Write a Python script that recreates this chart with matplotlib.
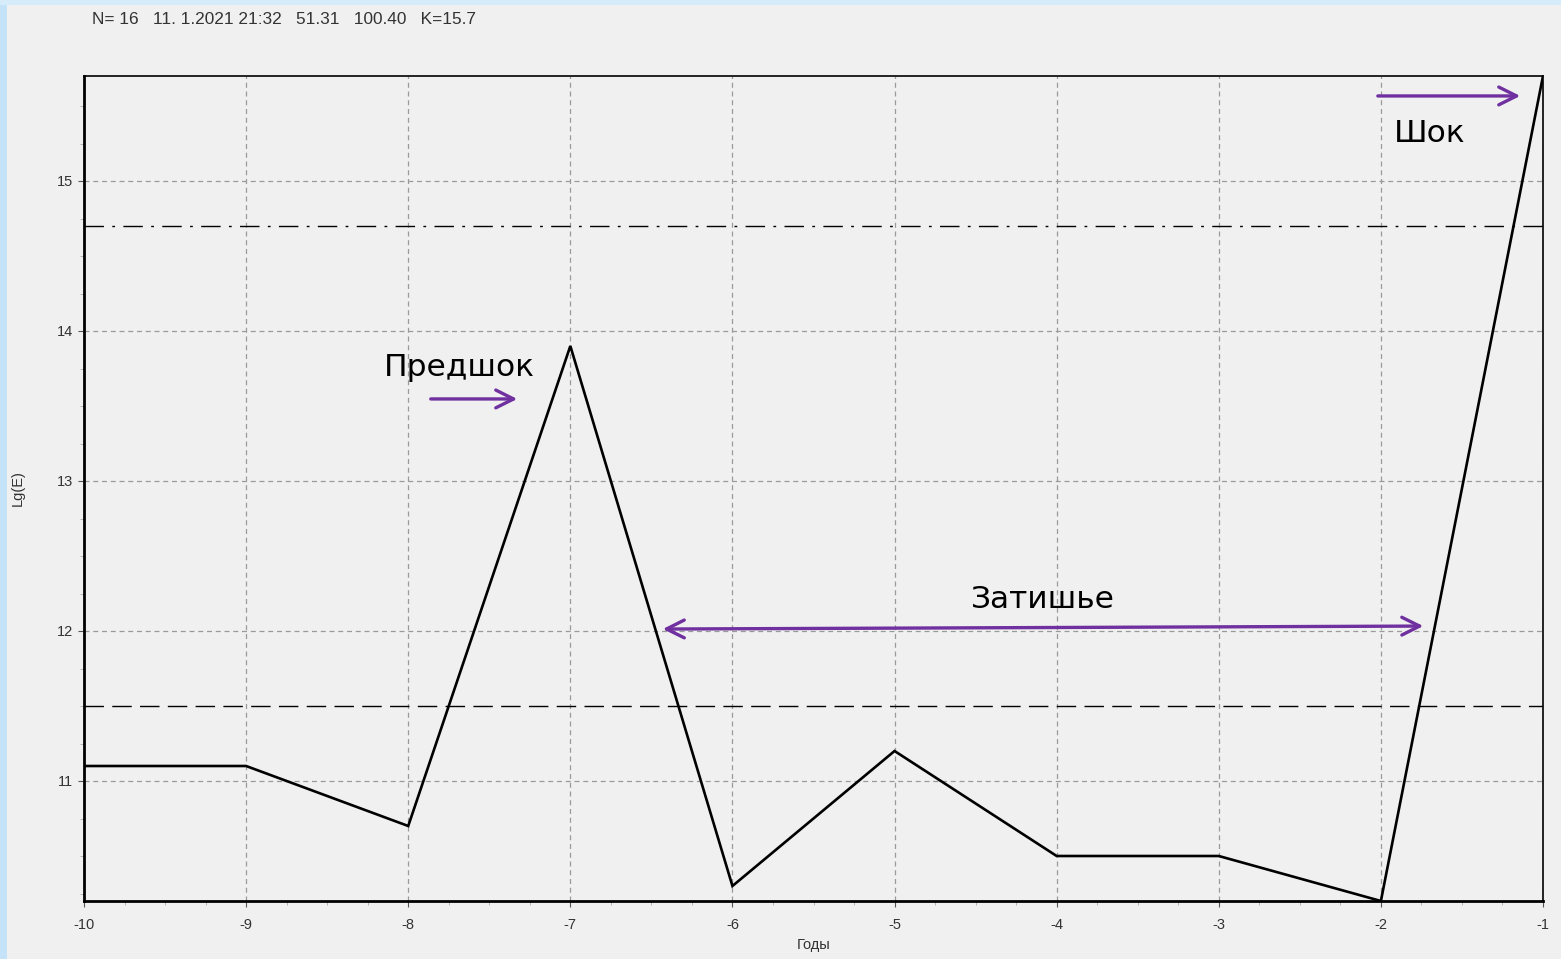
import numpy as np
import matplotlib.pyplot as plt
from matplotlib.patches import Rectangle
from matplotlib.ticker import MultipleLocator

plt.rcParams['axes.unicode_minus'] = False

# energy per year, log scale
years = [-10, -9, -8, -7, -6, -5, -4, -3, -2, -1]
lg_e = [11.1, 11.1, 10.7, 13.9, 10.3, 11.2, 10.5, 10.5, 10.2, 15.7]

level_upper = 14.7   # dash-dot line
level_lower = 11.5   # long-dash line

header = 'N= 16   11. 1.2021 21:32   51.31   100.40   K=15.7'

purple = '#7030a0'
txtcol = '#333333'
small = 'Liberation Sans'

fig = plt.figure(figsize=(15.61, 9.59), dpi=100)
fig.patch.set_facecolor('#f0f0f0')
fig.patches.append(Rectangle((0, 0), 7/1561, 1, transform=fig.transFigure,
                             facecolor='#c4e2f8', edgecolor='none', zorder=0))
fig.patches.append(Rectangle((0, 1 - 5/959), 1, 5/959, transform=fig.transFigure,
                             facecolor='#d6ecfb', edgecolor='none', zorder=0))

ax = fig.add_axes([84/1561, 58/959, (1543-84)/1561, (901-76)/959])
ax.set_facecolor('#f0f0f0')

ax.plot(years, lg_e, color='black', lw=1.9, zorder=3, solid_joinstyle='miter')
ax.axhline(level_upper, color='black', lw=1.0, dashes=(14, 6, 2, 6), zorder=2)
ax.axhline(level_lower, color='black', lw=1.0, dashes=(14, 6), zorder=2)

ax.set_xlim(-10, -1)
ax.set_ylim(10.2, 15.7)
ax.xaxis.set_major_locator(MultipleLocator(1))
ax.xaxis.set_minor_locator(MultipleLocator(0.25))
ax.yaxis.set_major_locator(MultipleLocator(1))
ax.yaxis.set_minor_locator(MultipleLocator(0.25))
ax.grid(True, which='major', color='#9a9a9a', lw=0.9, dashes=(4, 3))
ax.tick_params(which='major', length=4, width=0.8, color='#555555',
               labelsize=10.5, labelcolor=txtcol, pad=4)
ax.tick_params(axis='x', which='major', pad=8)
ax.tick_params(which='minor', length=3, width=0.6, color='#aaaaaa')
for lab in ax.get_xticklabels() + ax.get_yticklabels():
    lab.set_family(small)

for s in ['left', 'bottom']:
    ax.spines[s].set_linewidth(2.0)
for s in ['top', 'right']:
    ax.spines[s].set_linewidth(1.2)

ax.set_xlabel('Годы', fontsize=10.5, color=txtcol, family=small)
ax.xaxis.set_label_coords(0.5, -37/825)
ax.set_ylabel('Lg(E)', fontsize=10.5, color=txtcol, family=small)
ax.yaxis.set_label_coords(-59/1459, 0.5)

fig.text(92/1561, 1 - 20/959, header, fontsize=12.4, color=txtcol,
         family=small, va='center', ha='left')

# phase labels and arrows
arrow = dict(arrowstyle='->', color=purple, lw=2.4, mutation_scale=32)
ax.annotate('', xy=(-7.31, 13.547), xytext=(-7.878, 13.547), arrowprops=arrow)
ax.annotate('', xy=(-1.123, 15.567), xytext=(-2.036, 15.567), arrowprops=arrow)
ax.annotate('', xy=(-1.721, 12.033), xytext=(-6.447, 12.013),
            arrowprops=dict(arrow, arrowstyle='<->'))

ax.text(-7.687, 13.76, 'Предшок', fontsize=22.5, ha='center', va='center')
ax.text(-1.697, 15.32, 'Шок', fontsize=22.5, ha='center', va='center')
ax.text(-4.084, 12.21, 'Затишье', fontsize=22.5, ha='center', va='center')

fig.savefig('out.png', dpi=100, facecolor=fig.get_facecolor())
